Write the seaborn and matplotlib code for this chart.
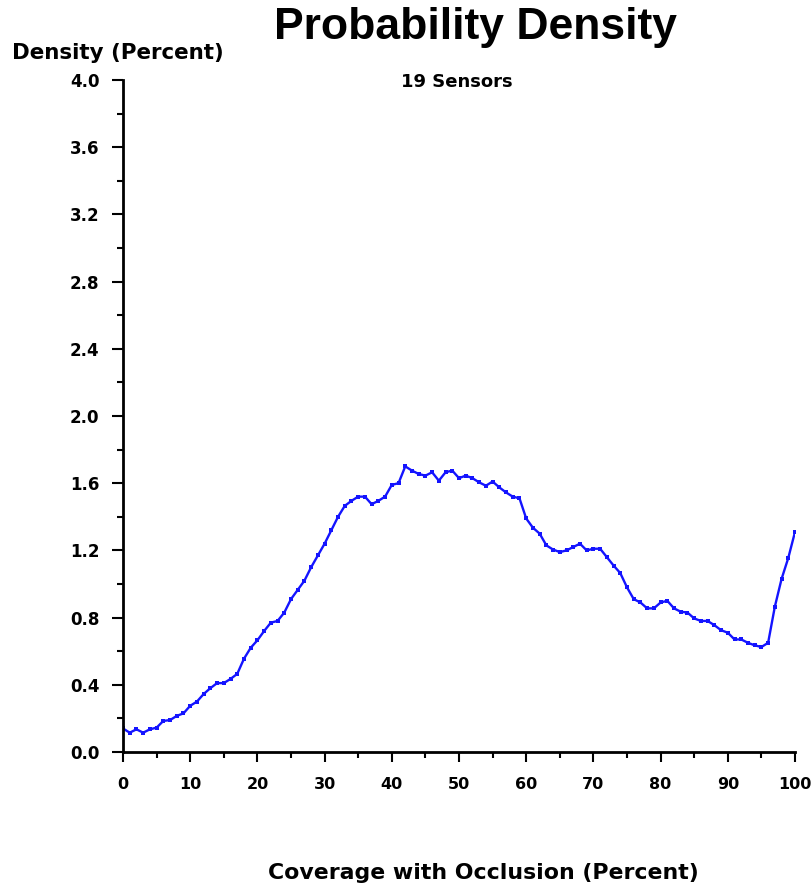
import numpy as np
import pandas as pd
import matplotlib
matplotlib.use("Agg")
import matplotlib.pyplot as plt
from matplotlib.ticker import MultipleLocator, FormatStrFormatter
import seaborn as sns

# Data (one point per percent of coverage)
coverage = list(range(0, 101))
density = [
    0.14, 0.115, 0.135, 0.115, 0.135, 0.145, 0.185, 0.19, 0.215, 0.23,
    0.275, 0.30, 0.345, 0.38, 0.41, 0.41, 0.435, 0.465, 0.555, 0.62,
    0.665, 0.72, 0.77, 0.78, 0.83, 0.91, 0.965, 1.02, 1.10, 1.17,
    1.24, 1.32, 1.40, 1.465, 1.495, 1.52, 1.52, 1.475, 1.495, 1.52,
    1.59, 1.60, 1.70, 1.675, 1.655, 1.645, 1.665, 1.615, 1.665, 1.675,
    1.63, 1.645, 1.63, 1.605, 1.585, 1.61, 1.575, 1.545, 1.52, 1.51,
    1.39, 1.335, 1.30, 1.23, 1.205, 1.19, 1.20, 1.22, 1.24, 1.20,
    1.21, 1.21, 1.16, 1.11, 1.065, 0.98, 0.91, 0.89, 0.855, 0.855,
    0.89, 0.90, 0.855, 0.835, 0.83, 0.795, 0.78, 0.78, 0.755, 0.725,
    0.71, 0.67, 0.67, 0.65, 0.635, 0.625, 0.65, 0.865, 1.03, 1.155,
    1.31,
]
y_ticks = [0.0, 0.4, 0.8, 1.2, 1.6, 2.0, 2.4, 2.8, 3.2, 3.6, 4.0]
x_ticks = [0, 10, 20, 30, 40, 50, 60, 70, 80, 90, 100]

df = pd.DataFrame({"coverage": coverage, "density": density})

sns.set_style("ticks")
plt.rcParams['font.family'] = ['DejaVu Sans']
plt.rcParams['font.weight'] = 'bold'
plt.rcParams['text.color'] = 'black'
plt.rcParams['xtick.color'] = 'black'
plt.rcParams['ytick.color'] = 'black'

fig = plt.figure(figsize=(8.12, 8.88), dpi=100)
ax = fig.add_axes([123 / 812, 1 - 752 / 888, (795 - 123) / 812, (752 - 80) / 888])

sns.lineplot(data=df, x="coverage", y="density", ax=ax, color="#1414ff",
             linewidth=1.7, marker="s", markersize=3.2, markeredgewidth=0)

ax.set_xlim(0, 100)
ax.set_ylim(0, 4.0)
ax.set_xticks(x_ticks)
ax.set_yticks(y_ticks)
ax.xaxis.set_minor_locator(MultipleLocator(5))
ax.yaxis.set_minor_locator(MultipleLocator(0.2))
ax.yaxis.set_major_formatter(FormatStrFormatter('%.1f'))
ax.set_xlabel("")
ax.set_ylabel("")

for side in ["top", "right"]:
    ax.spines[side].set_visible(False)
for side in ["left", "bottom"]:
    ax.spines[side].set_linewidth(2)
    ax.spines[side].set_color("black")

ax.tick_params(axis="y", which="major", length=8, width=1.5, pad=9, labelsize=12)
ax.tick_params(axis="y", which="minor", length=4.5, width=1.5)
ax.tick_params(axis="x", which="major", length=7, width=1.5, pad=11, labelsize=11.5)
ax.tick_params(axis="x", which="minor", length=4, width=1.5)
for lab in ax.get_xticklabels() + ax.get_yticklabels():
    lab.set_fontweight("bold")

fig.text(476 / 812, 1 - 28 / 888, "Probability Density", ha="center", va="center",
         fontsize=32, fontweight="bold", family="Liberation Sans")
fig.text(457 / 812, 1 - 82 / 888, "19 Sensors", ha="center", va="center",
         fontsize=13, fontweight="bold")
fig.text(12 / 812, 1 - 53 / 888, "Density (Percent)", ha="left", va="center",
         fontsize=15.4, fontweight="bold")
fig.text(483 / 812, 1 - 873 / 888, "Coverage with Occlusion (Percent)", ha="center",
         va="center", fontsize=15.8, fontweight="bold")

fig.savefig("out.png", dpi=100)
